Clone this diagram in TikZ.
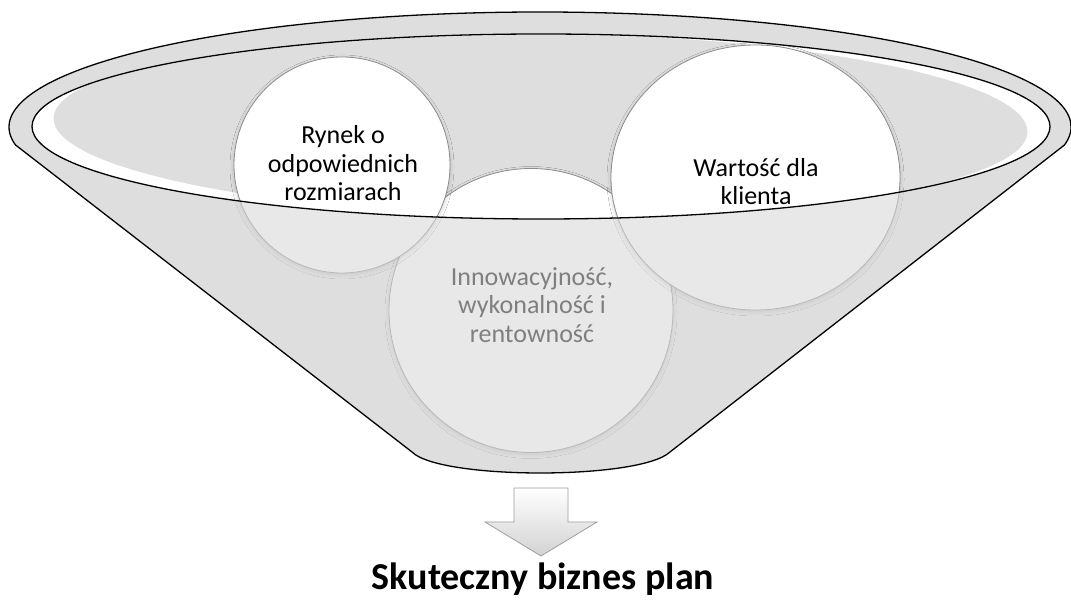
\documentclass[tikz,border=0pt]{standalone}
\usepackage{fontspec}
\setmainfont{Carlito}
\usetikzlibrary{shapes.geometric,shadows.blur}
\definecolor{band}{gray}{0.91}
\definecolor{innerg}{gray}{0.87}
\definecolor{frontc}{gray}{0.847}
\definecolor{circline}{gray}{0.55}
\definecolor{arrline}{gray}{0.62}
\begin{document}
\begin{tikzpicture}[x=1pt,y=1pt,
  bubble/.style={draw=circline, line width=0.8pt, fill=white, inner sep=0pt,
    blur shadow={shadow xshift=0pt, shadow yshift=-2pt, shadow blur radius=4pt, shadow opacity=20}},
  rimline/.style={draw=black, line width=1.3pt},
  lbl/.style={font=\fontsize{26}{28.5}\selectfont, align=center, inner sep=0pt},
]
\useasboundingbox (0,0) rectangle (1071,602);
% back of funnel
\fill[band] (1064.46,457.01) arc[start angle=-9, end angle=189, x radius=531, y radius=115]
  -- (412,150) .. controls (440,122) and (640,122) .. (670,150) -- cycle;
% inside of rim
\fill[white] (541,475.5) ellipse [x radius=509, y radius=92.5];
\begin{scope}
  \clip (541,475.5) ellipse [x radius=508, y radius=91.5];
  \fill[innerg, rotate around={-0.8:(540.5,475.5)}] (540.5,477) ellipse [x radius=487, y radius=92];
\end{scope}
% bubbles
\node[bubble, circle, minimum size=284] (c3) at (531,291.5) {};
\node[lbl] (t3) at (532,297) {Innowacyjność,\\wykonalność i\\rentowność};
\node[bubble, circle, minimum size=216] (c1) at (342,437) {};
\node[lbl] (t1) at (343,438.5) {Rynek o\\odpowiednich\\rozmiarach};
\node[bubble, ellipse, minimum width=289, minimum height=265] (c2) at (755.5,424.5) {};
\node[lbl] (t2) at (756,420.5) {Wartość dla\\klienta};
% translucent front of funnel
\fill[frontc, fill opacity=0.59, even odd rule]
  (1064.46,457.01) arc[start angle=-9, end angle=189, x radius=531, y radius=115]
  -- (412,150) .. controls (440,122) and (640,122) .. (670,150) -- cycle
  (541,475.5) ellipse [x radius=509, y radius=92.5];
% outlines
\draw[rimline, line join=round] (1064.46,457.01) arc[start angle=-9, end angle=189, x radius=531, y radius=115]
  -- (412,150) .. controls (440,122) and (640,122) .. (670,150) -- cycle;
\draw[rimline] (541,475.5) ellipse [x radius=509, y radius=92.5];
% arrow
\draw[draw=arrline, line width=0.8pt, top color=white, bottom color=gray!35]
  (514,114) -- (568,114) -- (568,80) -- (597,80) -- (541,46) -- (485,80) -- (514,80) -- cycle;
\node[font=\fontsize{38}{40}\selectfont\bfseries, anchor=base, inner sep=0pt] (title) at (543,12) {Skuteczny biznes plan};
\end{tikzpicture}
\end{document}
